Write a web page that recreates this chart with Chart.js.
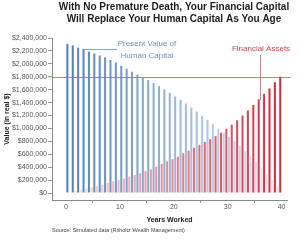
<!DOCTYPE html>
<html>
<head>
<meta charset="utf-8">
<script src="https://cdn.jsdelivr.net/npm/chart.js@4"></script>
<style>
  html, body { margin: 0; padding: 0; background: #fff; }
  #wrap { width: 300px; height: 240px; }
</style>
</head>
<body>
<div id="wrap"><canvas id="chart" width="300" height="240"></canvas></div>
<script>
// years 0..40
const years = [0,1,2,3,4,5,6,7,8,9,10,11,12,13,14,15,16,17,18,19,20,21,22,23,24,25,26,27,28,29,30,31,32,33,34,35,36,37,38,39,40];

// present value of human capital ($)
const humanCapital = [
  2310000, 2285000, 2250000, 2220000, 2190000, 2160000, 2130000, 2100000, 2060000, 2020000,
  1970000, 1925000, 1877000, 1835000, 1789000, 1748000, 1702000, 1655000, 1603000, 1551000,
  1494000, 1443000, 1385000, 1323000, 1261000, 1195000, 1133000, 1066000, 993000, 930000,
  870000, 800000, 730000, 650000, 570000, 480000, 390000, 290000, 200000, 100000, 0
];

// financial assets ($)
const financialAssets = [
  0, 10000, 30000, 50000, 70000, 90000, 110000, 130000, 155000, 180000,
  200000, 225000, 255000, 280000, 305000, 340000, 368000, 408000, 450000, 490000,
  523000, 563000, 616000, 656000, 700000, 745000, 790000, 835000, 880000, 935000,
  995000, 1060000, 1125000, 1200000, 1280000, 1365000, 1450000, 1535000, 1620000, 1715000, 1800000
];

const yTicks = [0,200000,400000,600000,800000,1000000,1200000,1400000,1600000,1800000,2000000,2200000,2400000];
const xTicks = [0,10,20,30,40];
const targetLine = 1800000;

const FONT = "'Liberation Sans', Arial, sans-serif";

// fading colours, blue fades out over the years, red fades in
const blueColors = years.map((y) => `rgba(66,122,184,${(0.95 - 0.82 * y / 40).toFixed(3)})`);
const redColors = years.map((y) => `rgba(214,38,56,${(0.12 + 0.88 * y / 40).toFixed(3)})`);

const annotations = {
  id: 'annotations',
  afterDatasetsDraw(chart) {
    const { ctx, scales: { x, y } } = chart;
    ctx.save();

    // 1.8M reference line
    const yy = Math.round(y.getPixelForValue(targetLine)) + 0.5;
    ctx.strokeStyle = 'rgba(222,80,90,0.8)';
    ctx.lineWidth = 1;
    ctx.beginPath();
    ctx.moveTo(x.left, yy);
    ctx.lineTo(291, yy);
    ctx.stroke();

    // financial assets label + leader
    const fx = Math.round(x.getPixelForValue(36)) + 0.5;
    ctx.strokeStyle = 'rgba(222,80,90,0.75)';
    ctx.beginPath();
    ctx.moveTo(fx, 55);
    ctx.lineTo(fx, y.getPixelForValue(financialAssets[36]) + 1);
    ctx.stroke();
    ctx.fillStyle = '#d9404c';
    ctx.font = `8px ${FONT}`;
    ctx.textAlign = 'center';
    ctx.textBaseline = 'middle';
    ctx.fillText('Financial Assets', 261, 49);

    // human capital label + leader
    ctx.strokeStyle = 'rgba(110,150,200,0.85)';
    ctx.beginPath();
    ctx.moveTo(x.getPixelForValue(3), 49.5);
    ctx.lineTo(117, 49.5);
    ctx.stroke();
    ctx.fillStyle = '#6a93c6';
    ctx.fillText('Present Value of', 147, 43.5);
    ctx.fillText('Human Capital', 147, 56);

    // title
    ctx.fillStyle = '#1e1e1e';
    ctx.font = `bold 10px ${FONT}`;
    ctx.fillText('With No Premature Death, Your Financial Capital', 174, 7);
    ctx.fillText('Will Replace Your Human Capital As You Age', 174, 19);

    // source
    ctx.fillStyle = '#444';
    ctx.font = `5.5px ${FONT}`;
    ctx.textAlign = 'left';
    ctx.fillText('Source: Simulated data (Ritholtz Wealth Management)', 52, 230.5);

    ctx.restore();
  }
};

new Chart(document.getElementById('chart'), {
  type: 'bar',
  data: {
    labels: years,
    datasets: [
      {
        label: 'Financial Assets',
        data: financialAssets,
        backgroundColor: redColors,
        borderWidth: 0,
        categoryPercentage: 1,
        barPercentage: 0.75,
      },
      {
        label: 'Present Value of Human Capital',
        data: humanCapital,
        backgroundColor: blueColors,
        borderWidth: 0,
        categoryPercentage: 1,
        barPercentage: 0.75,
      },
    ],
  },
  options: {
    responsive: false,
    animation: false,
    layout: { padding: { top: 38, right: 13, bottom: 16, left: 0 } },
    plugins: {
      legend: { display: false },
      tooltip: { enabled: false },
    },
    scales: {
      x: {
        type: 'linear',
        min: -2.6,
        max: 41,
        offset: false,
        afterBuildTicks: (scale) => { scale.ticks = xTicks.map((v) => ({ value: v })); },
        afterFit: (scale) => { scale.height = 24; },
        grid: { drawOnChartArea: false, drawTicks: true, tickLength: 3, color: '#999' },
        border: { color: '#888', width: 1 },
        ticks: { font: { family: FONT, size: 7 }, color: '#555', padding: 0, maxRotation: 0 },
        title: {
          display: true,
          text: 'Years Worked',
          font: { family: FONT, size: 7, weight: 'bold' },
          color: '#222',
          padding: { top: 0, bottom: 0 },
        },
      },
      y: {
        min: -108000,
        max: 2400000,
        afterBuildTicks: (scale) => { scale.ticks = yTicks.map((v) => ({ value: v })); },
        afterFit: (scale) => { scale.width = 52; },
        grid: { drawOnChartArea: false, drawTicks: true, tickLength: 4, color: '#999' },
        border: { color: '#888', width: 1 },
        ticks: {
          font: { family: FONT, size: 7 },
          color: '#555',
          padding: 1,
          callback: (v) => '$' + Number(v).toLocaleString('en-US'),
        },
        title: {
          display: true,
          text: 'Value (in real $)',
          font: { family: FONT, size: 7, weight: 'bold' },
          color: '#222',
          padding: { top: 3, bottom: 0 },
        },
      },
    },
  },
  plugins: [annotations],
});
</script>
</body>
</html>
